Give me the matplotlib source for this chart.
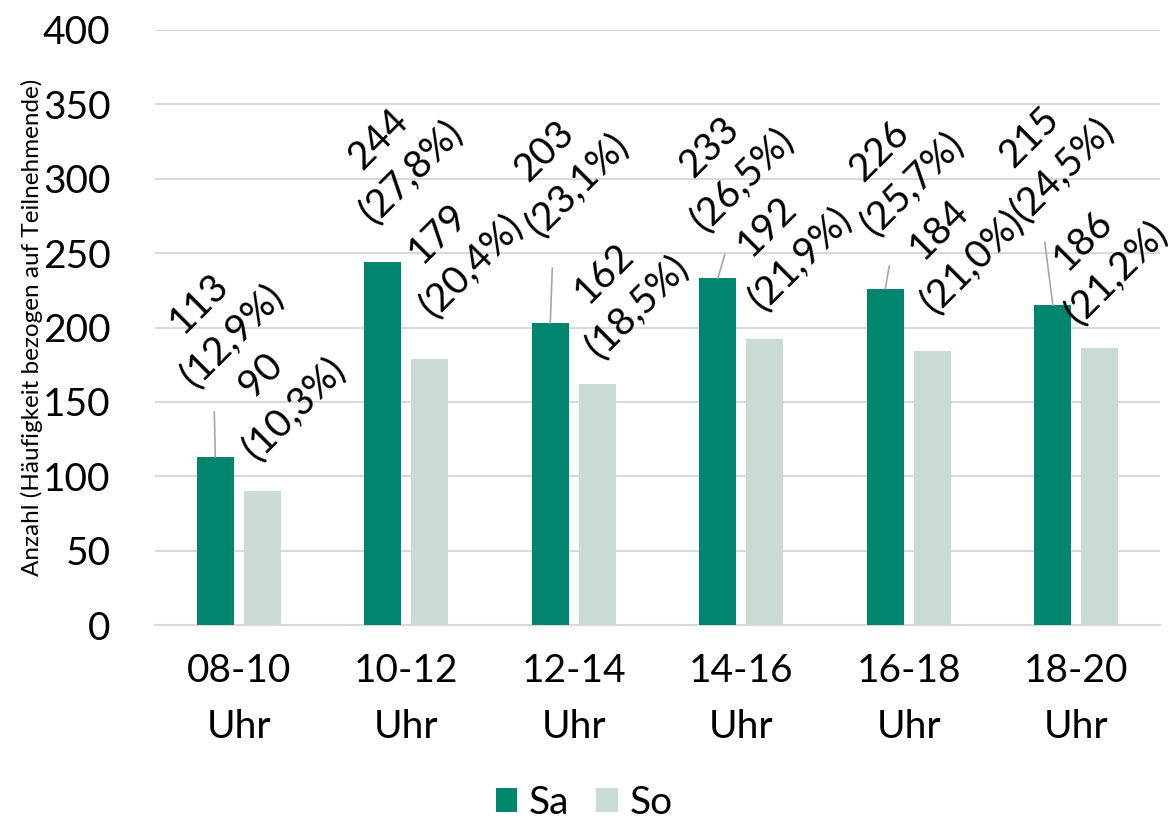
import numpy as np
import matplotlib.pyplot as plt

plt.rcParams['font.family'] = ['Lato', 'DejaVu Sans']

# Data
slots = ["08-10\nUhr", "10-12\nUhr", "12-14\nUhr", "14-16\nUhr", "16-18\nUhr", "18-20\nUhr"]
sa = [113, 244, 203, 233, 226, 215]
so = [90, 179, 162, 192, 184, 186]
sa_pct = ["12,9", "27,8", "23,1", "26,5", "25,7", "24,5"]
so_pct = ["10,3", "20,4", "18,5", "21,9", "21,0", "21,2"]

# label offsets (pixels) from bar top, as placed in the original
sa_off = [(0, 137), (12, 107), (10, 155), (8, 115), (10, 121), (-7, 152)]
so_off = [(15, 99), (25, 109), (23, 94), (19, 97), (23, 106), (0, 92)]
# leader line ends (pixels from bar top), None = no leader
sa_lead = [(-1, 45), None, (2, 55), (7, 24), (4, 23), (-8, 63)]

c_sa = '#00866E'
c_so = '#CADBD6'

fig = plt.figure(figsize=(11.68, 8.19), dpi=100)
ax = fig.add_axes([155/1168, 1 - 625/819, 1005/1168, 595/819])

x = np.arange(len(slots))
w = 0.22
ax.bar(x - 0.14, sa, w, color=c_sa, label='Sa', zorder=3)
ax.bar(x + 0.14, so, w, color=c_so, label='So', zorder=3)

for i in range(len(slots)):
    if sa_lead[i] is not None:
        ax.annotate('', xy=(x[i] - 0.14, sa[i]), xytext=sa_lead[i], textcoords='offset pixels',
                    arrowprops=dict(arrowstyle='-', color='#A6A6A6', lw=1.2, shrinkA=0, shrinkB=0))
    ax.annotate(f"{sa[i]}\n({sa_pct[i]}%)", xy=(x[i] - 0.14, sa[i]), xytext=sa_off[i],
                textcoords='offset pixels', rotation=45, rotation_mode='anchor',
                ha='center', va='center', multialignment='center', fontsize=28,
                linespacing=1.35, zorder=4)
    ax.annotate(f"{so[i]}\n({so_pct[i]}%)", xy=(x[i] + 0.14, so[i]), xytext=so_off[i],
                textcoords='offset pixels', rotation=45, rotation_mode='anchor',
                ha='center', va='center', multialignment='center', fontsize=28,
                linespacing=1.35, zorder=4)

ax.set_xlim(-0.5, len(slots) - 0.5)
ax.set_ylim(0, 400)
ax.set_yticks(np.arange(0, 401, 50))
ax.set_xticks(x)
ax.set_xticklabels(slots, linespacing=1.7)
ax.tick_params(axis='both', length=0, labelsize=28)
ax.tick_params(axis='y', pad=32)
ax.tick_params(axis='x', pad=20)
ax.grid(axis='y', color='#D9D9D9', lw=1.5, zorder=0)
for s in ['top', 'right', 'left']:
    ax.spines[s].set_visible(False)
ax.spines['bottom'].set_color('#D9D9D9')
ax.spines['bottom'].set_linewidth(1.5)

fig.text(32/1168, 1 - 327/819, "Anzahl (Häufigkeit bezogen auf Teilnehmende)",
         rotation=90, ha='center', va='center', fontsize=17.5)

fig.legend(loc='lower center', bbox_to_anchor=(0.5, -0.045), ncol=2, frameon=False,
           fontsize=28, handlelength=0.55, handleheight=0.55, handletextpad=0.3,
           columnspacing=0.7)

fig.savefig('out.png', dpi=100)
